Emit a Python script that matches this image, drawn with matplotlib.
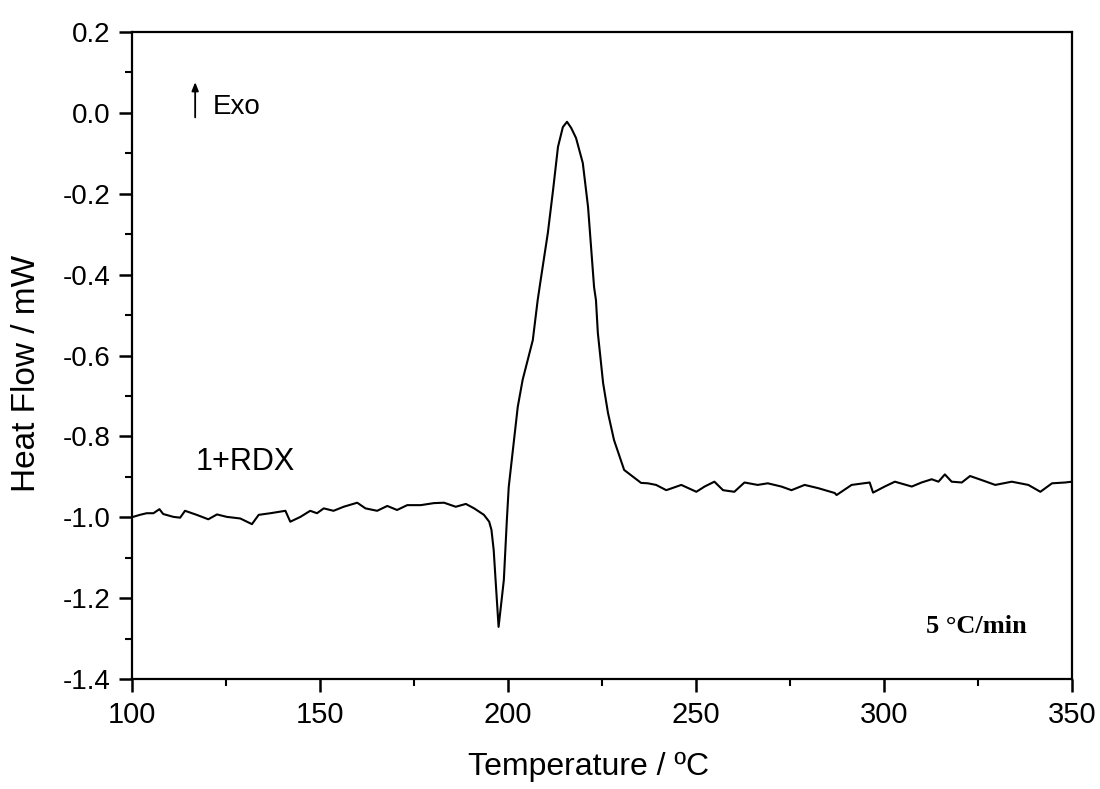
import matplotlib
matplotlib.use("Agg")
import matplotlib.pyplot as plt
from matplotlib.ticker import MultipleLocator

plt.rcParams['font.family'] = ['Liberation Sans', 'DejaVu Sans']

temperature = [
    100.3, 102.1, 103.9, 105.7, 107.3, 108.3, 111.0, 112.8, 114.1, 117.2,
    120.3, 122.6, 125.2, 128.8, 131.9, 133.7, 136.8, 140.8, 142.1, 144.8,
    147.4, 149.2, 151.0, 153.6, 156.3, 159.9, 162.1, 165.2, 167.9, 170.5,
    173.2, 176.8, 180.3, 183.0, 186.1, 188.8, 191.0, 193.6, 195.0, 195.6,
    196.2, 196.7, 197.5, 198.3, 198.9, 199.7, 200.2, 201.3, 202.6, 203.9,
    206.6, 207.9, 208.7, 210.6, 212.0, 213.3, 214.6, 215.7, 216.8, 218.1,
    219.9, 221.3, 222.1, 222.9, 223.4, 223.9, 225.3, 226.6, 228.2, 230.9,
    235.4, 237.2, 239.4, 242.1, 246.1, 250.1, 252.3, 254.9, 257.2, 260.2,
    262.9, 266.4, 269.1, 272.7, 275.4, 278.9, 282.5, 286.9, 287.4, 291.4,
    296.2, 297.1, 300.2, 302.9, 307.4, 310.0, 312.7, 314.5, 316.2, 318.0,
    320.7, 322.9, 326.0, 329.6, 334.0, 338.4, 341.6, 344.7, 348.2, 350.0,
]
heat_flow = [
    -0.999, -0.994, -0.990, -0.990, -0.980, -0.992, -0.999, -1.001, -0.984, -0.994,
    -1.005, -0.993, -0.999, -1.003, -1.017, -0.994, -0.990, -0.984, -1.011, -0.999,
    -0.984, -0.990, -0.978, -0.984, -0.974, -0.964, -0.978, -0.984, -0.972, -0.982,
    -0.970, -0.970, -0.965, -0.964, -0.974, -0.967, -0.978, -0.994, -1.011, -1.031,
    -1.081, -1.155, -1.271, -1.205, -1.155, -1.007, -0.925, -0.834, -0.727, -0.660,
    -0.562, -0.463, -0.413, -0.297, -0.190, -0.084, -0.035, -0.022, -0.037, -0.062,
    -0.124, -0.233, -0.332, -0.431, -0.463, -0.544, -0.668, -0.742, -0.809, -0.883,
    -0.915, -0.916, -0.920, -0.933, -0.920, -0.937, -0.924, -0.912, -0.933, -0.937,
    -0.914, -0.920, -0.916, -0.924, -0.933, -0.920, -0.928, -0.940, -0.945, -0.920,
    -0.914, -0.939, -0.924, -0.912, -0.924, -0.914, -0.906, -0.912, -0.894, -0.912,
    -0.914, -0.898, -0.908, -0.920, -0.912, -0.920, -0.937, -0.916, -0.914, -0.912,
]

x_label = "Temperature / ºC"
y_label = "Heat Flow / mW"
sample_label = "1+RDX"
rate_label = "5 °C/min"
exo_label = "Exo"

fig = plt.figure(figsize=(11, 7.89), dpi=100)
ax = fig.add_axes([0.12, 0.1394, 0.8545, 0.82])

ax.plot(temperature, heat_flow, color='black', linewidth=1.5)

ax.set_xlim(100, 350)
ax.set_ylim(-1.4, 0.2)
ax.xaxis.set_major_locator(MultipleLocator(50))
ax.xaxis.set_minor_locator(MultipleLocator(25))
ax.yaxis.set_major_locator(MultipleLocator(0.2))
ax.yaxis.set_minor_locator(MultipleLocator(0.1))
ax.yaxis.set_major_formatter(matplotlib.ticker.FuncFormatter(lambda v, p: f"{v:.1f}"))

for s in ax.spines.values():
    s.set_linewidth(1.6)

ax.tick_params(axis='both', which='major', direction='out', length=9.5, width=1.8,
               top=False, right=False)
ax.tick_params(axis='both', which='minor', direction='out', length=5, width=1.5,
               top=False, right=False)
ax.tick_params(axis='x', which='major', labelsize=21, pad=6)
ax.tick_params(axis='y', which='major', labelsize=20, pad=6)

ax.set_xlabel(x_label, fontsize=23)
ax.set_ylabel(y_label, fontsize=24)
ax.xaxis.set_label_coords(0.486, -0.113)
ax.yaxis.set_label_coords(-0.096, 0.473)

ax.text(116.8, -0.863, sample_label, fontsize=22, ha='left', va='center')
ax.text(311.3, -1.271, rate_label, fontsize=19, fontweight='bold',
        family=['Liberation Serif', 'DejaVu Serif'], ha='left', va='center')
ax.annotate('', xy=(116.8, 0.083), xytext=(116.8, -0.018),
            arrowprops=dict(arrowstyle='-|>,head_length=0.5,head_width=0.2',
                            color='black', lw=1.3))
ax.text(121.6, 0.014, exo_label, fontsize=20, ha='left', va='center')

fig.savefig('out.png', dpi=100)
